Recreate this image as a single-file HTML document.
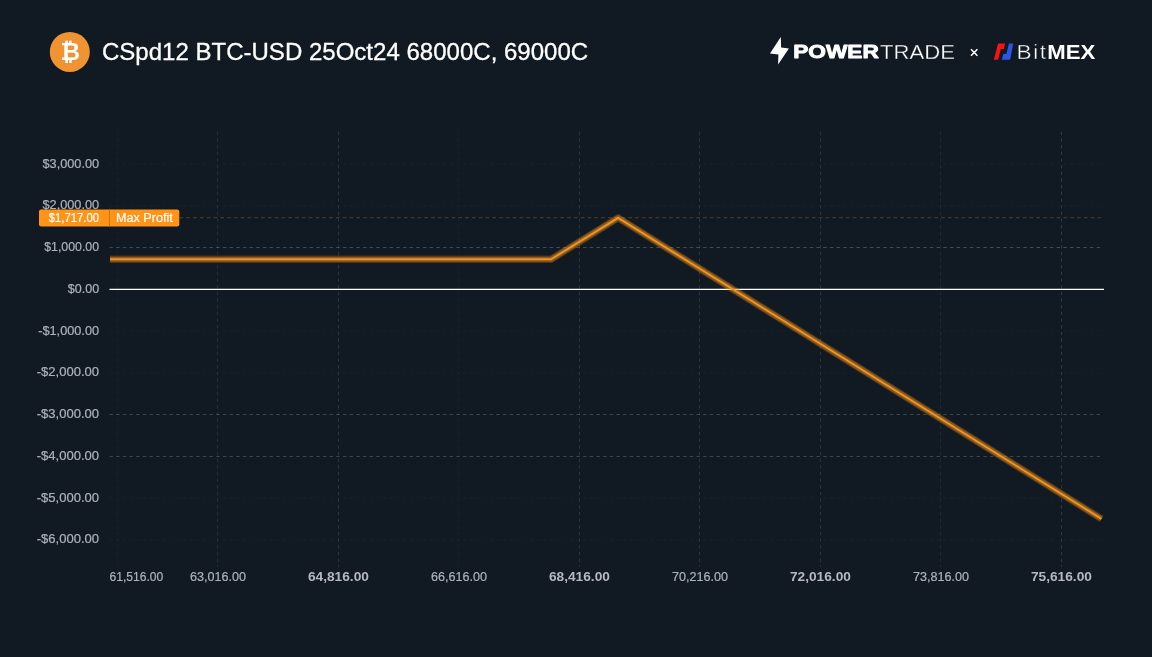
<!DOCTYPE html>
<html lang="en"><head><meta charset="utf-8"><title>CSpd12 BTC-USD 25Oct24 68000C, 69000C</title>
<style>
html,body{margin:0;padding:0;background:#111a23;}
body{width:1152px;height:657px;overflow:hidden;font-family:"Liberation Sans",sans-serif;}
svg{display:block;position:absolute;left:0;top:0;}
text{font-family:"Liberation Sans",sans-serif;}
.yl{font-size:12px;fill:#adb2b9;stroke:#adb2b9;stroke-width:0.2px;}
.xl{font-size:12px;fill:#adb2b9;stroke:#adb2b9;stroke-width:0.2px;}
.xb{font-size:12px;font-weight:700;fill:#b4b8bf;}
</style></head><body>
<svg width="1152" height="657" viewBox="0 0 1152 657">
<rect x="0" y="0" width="1152" height="657" fill="#111a23"/>

<g id="btc">
<circle cx="69.8" cy="51.9" r="20" fill="#f09433"/>
<text x="70.3" y="60.4" text-anchor="middle" font-size="24" font-weight="700" fill="#ffffff" style="font-family:'DejaVu Sans','Liberation Sans',sans-serif">₿</text>
</g>
<text x="101.9" y="60.3" font-size="24" fill="#ffffff" stroke="#ffffff" stroke-width="0.3" textLength="486.3" lengthAdjust="spacingAndGlyphs">CSpd12 BTC-USD 25Oct24 68000C, 69000C</text>

<g id="powertrade" fill="#ffffff">
<path d="M780.8 37 L770 53.5 L778.4 54.4 L778.1 64.6 L788.9 48.5 L781.1 47.5 Z"/>
<text x="793.2" y="58.4" font-size="19" font-weight="700" stroke="#ffffff" stroke-width="0.9" stroke-linejoin="round" textLength="85.6" lengthAdjust="spacingAndGlyphs">POWER</text>
<text x="880" y="58.6" font-size="19.6" font-weight="400" stroke="#111a23" stroke-width="0.3" textLength="75" lengthAdjust="spacingAndGlyphs">TRADE</text>
</g>
<path d="M971 49.2 L977.4 55.8 M977.4 49.2 L971 55.8" stroke="#ffffff" stroke-width="1.5" fill="none"/>
<g id="bitmex">
<path d="M998 43.6 L1005.1 43.6 L1003.8 48.9 L1000.8 48.9 L998.1 59.7 L993.9 59.7 Z" fill="#f81212"/>
<path d="M1008.9 43.6 L1013.2 43.6 L1010.2 59.7 L1001.8 59.7 L1003.3 53.9 L1006.4 53.9 Z" fill="#2c55e6"/>
<text transform="translate(1016.5 59.1) scale(1.1 1)" font-size="20.6" fill="#ffffff" stroke="#111a23" stroke-width="0.4" letter-spacing="1.4">Bit</text>
<text x="1047.2" y="59.1" font-size="20.6" font-weight="700" fill="#ffffff" textLength="48" lengthAdjust="spacingAndGlyphs">MEX</text>
</g>

<g id="grid" fill="none" stroke-width="1">
<line x1="109.5" y1="164.0" x2="1103" y2="164.0" stroke="#9aa1ab" stroke-opacity="0.05" stroke-dasharray="3.4 3.27"/>
<line x1="109.5" y1="206.0" x2="1103" y2="206.0" stroke="#9aa1ab" stroke-opacity="0.05" stroke-dasharray="3.4 3.27"/>
<line x1="109.5" y1="247.5" x2="1103" y2="247.5" stroke="#9aa1ab" stroke-opacity="0.36" stroke-dasharray="3.4 3.27"/>
<line x1="109.5" y1="331.0" x2="1103" y2="331.0" stroke="#9aa1ab" stroke-opacity="0.05" stroke-dasharray="3.4 3.27"/>
<line x1="109.5" y1="373.0" x2="1103" y2="373.0" stroke="#9aa1ab" stroke-opacity="0.05" stroke-dasharray="3.4 3.27"/>
<line x1="109.5" y1="414.5" x2="1103" y2="414.5" stroke="#9aa1ab" stroke-opacity="0.32" stroke-dasharray="3.4 3.27"/>
<line x1="109.5" y1="456.5" x2="1103" y2="456.5" stroke="#9aa1ab" stroke-opacity="0.32" stroke-dasharray="3.4 3.27"/>
<line x1="109.5" y1="498.0" x2="1103" y2="498.0" stroke="#9aa1ab" stroke-opacity="0.05" stroke-dasharray="3.4 3.27"/>
<line x1="109.5" y1="540.0" x2="1103" y2="540.0" stroke="#9aa1ab" stroke-opacity="0.05" stroke-dasharray="3.4 3.27"/>
<line x1="117.5" y1="131.7" x2="117.5" y2="567" stroke="#9aa1ab" stroke-opacity="0.05" stroke-dasharray="3.4 3.27"/>
<line x1="217.5" y1="131.7" x2="217.5" y2="567" stroke="#9aa1ab" stroke-opacity="0.15" stroke-dasharray="3.4 3.27"/>
<line x1="338.5" y1="131.7" x2="338.5" y2="567" stroke="#9aa1ab" stroke-opacity="0.19" stroke-dasharray="3.4 3.27"/>
<line x1="458.5" y1="131.7" x2="458.5" y2="567" stroke="#9aa1ab" stroke-opacity="0.05" stroke-dasharray="3.4 3.27"/>
<line x1="579.5" y1="131.7" x2="579.5" y2="567" stroke="#9aa1ab" stroke-opacity="0.19" stroke-dasharray="3.4 3.27"/>
<line x1="699.5" y1="131.7" x2="699.5" y2="567" stroke="#9aa1ab" stroke-opacity="0.19" stroke-dasharray="3.4 3.27"/>
<line x1="820.5" y1="131.7" x2="820.5" y2="567" stroke="#9aa1ab" stroke-opacity="0.19" stroke-dasharray="3.4 3.27"/>
<line x1="940.5" y1="131.7" x2="940.5" y2="567" stroke="#9aa1ab" stroke-opacity="0.11" stroke-dasharray="3.4 3.27"/>
<line x1="1061.5" y1="131.7" x2="1061.5" y2="567" stroke="#9aa1ab" stroke-opacity="0.22" stroke-dasharray="3.4 3.27"/>
</g>
<line x1="179.5" y1="217.71" x2="1103" y2="217.71" stroke="#ff9416" stroke-opacity="0.3" stroke-width="1" stroke-dasharray="3.7 3.1"/>
<line x1="109.5" y1="289.36" x2="1104" y2="289.36" stroke="#ffffff" stroke-width="1.25"/>
<g fill="none" stroke-linejoin="round" stroke="#f7931a">
<path d="M110.00 259.24 L551.15 259.24 L618.10 217.81 L1101.50 518.84" stroke-opacity="0.24" stroke-width="7.4"/>
<path d="M110.00 259.24 L551.15 259.24 L618.10 217.81 L1101.50 518.84" stroke="#f08c12" stroke-opacity="0.42" stroke-width="5.2"/>
<path d="M110.00 259.24 L551.15 259.24 L618.10 217.81 L1101.50 518.84" stroke="#ec9328" stroke-width="2"/>
</g>
<text class="yl" x="99.1" y="167.67" text-anchor="end" textLength="56.6" lengthAdjust="spacingAndGlyphs">$3,000.00</text>
<text class="yl" x="99.1" y="209.40" text-anchor="end" textLength="56.6" lengthAdjust="spacingAndGlyphs">$2,000.00</text>
<text class="yl" x="99.1" y="251.13" text-anchor="end" textLength="54.9" lengthAdjust="spacingAndGlyphs">$1,000.00</text>
<text class="yl" x="99.1" y="292.86" text-anchor="end" textLength="31.3" lengthAdjust="spacingAndGlyphs">$0.00</text>
<text class="yl" x="99.1" y="334.59" text-anchor="end" textLength="60.9" lengthAdjust="spacingAndGlyphs">-$1,000.00</text>
<text class="yl" x="99.1" y="376.32" text-anchor="end" textLength="62.4" lengthAdjust="spacingAndGlyphs">-$2,000.00</text>
<text class="yl" x="99.1" y="418.05" text-anchor="end" textLength="62.4" lengthAdjust="spacingAndGlyphs">-$3,000.00</text>
<text class="yl" x="99.1" y="459.78" text-anchor="end" textLength="62.4" lengthAdjust="spacingAndGlyphs">-$4,000.00</text>
<text class="yl" x="99.1" y="501.51" text-anchor="end" textLength="62.4" lengthAdjust="spacingAndGlyphs">-$5,000.00</text>
<text class="yl" x="99.1" y="543.24" text-anchor="end" textLength="62.4" lengthAdjust="spacingAndGlyphs">-$6,000.00</text>
<text class="xl" x="109.6" y="581" textLength="53.7" lengthAdjust="spacingAndGlyphs">61,516.00</text>
<text class="xl" x="217.90" y="581" text-anchor="middle" textLength="56" lengthAdjust="spacingAndGlyphs">63,016.00</text>
<text class="xb" x="338.40" y="581" text-anchor="middle" textLength="61" lengthAdjust="spacingAndGlyphs">64,816.00</text>
<text class="xl" x="458.90" y="581" text-anchor="middle" textLength="56" lengthAdjust="spacingAndGlyphs">66,616.00</text>
<text class="xb" x="579.40" y="581" text-anchor="middle" textLength="61" lengthAdjust="spacingAndGlyphs">68,416.00</text>
<text class="xl" x="699.90" y="581" text-anchor="middle" textLength="56" lengthAdjust="spacingAndGlyphs">70,216.00</text>
<text class="xb" x="820.40" y="581" text-anchor="middle" textLength="61" lengthAdjust="spacingAndGlyphs">72,016.00</text>
<text class="xl" x="940.90" y="581" text-anchor="middle" textLength="56" lengthAdjust="spacingAndGlyphs">73,816.00</text>
<text class="xb" x="1061.40" y="581" text-anchor="middle" textLength="61" lengthAdjust="spacingAndGlyphs">75,616.00</text>
<g id="badge">
<rect x="39" y="209.4" width="140.3" height="17" rx="2" ry="2" fill="#ff9416"/>
<line x1="109.5" y1="209.4" x2="109.5" y2="226.4" stroke="#c9700a" stroke-width="1"/>
<text x="99" y="222.2" text-anchor="end" font-size="12" fill="#ffffff" stroke="#ffffff" stroke-width="0.2" textLength="50.3" lengthAdjust="spacingAndGlyphs">$1,717.00</text>
<text x="116" y="222.2" font-size="12" fill="#ffffff" stroke="#ffffff" stroke-width="0.2" textLength="56.8" lengthAdjust="spacingAndGlyphs">Max Profit</text>
</g>
</svg></body></html>
